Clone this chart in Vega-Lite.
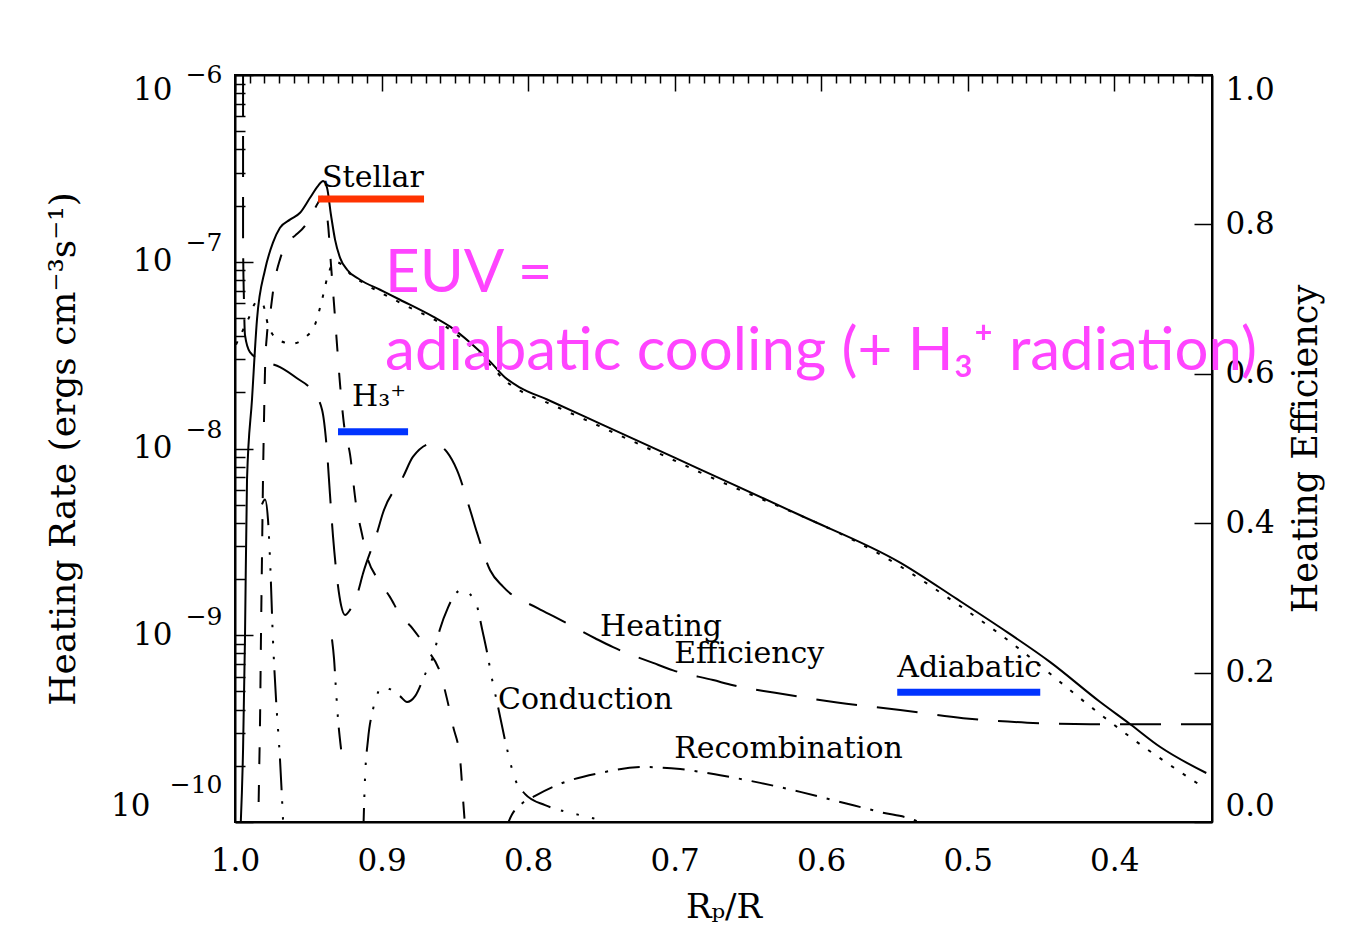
{
  "$schema": "https://vega.github.io/schema/vega-lite/v6.json",
  "width": 977,
  "height": 747,
  "autosize": "none",
  "padding": {"left": 235, "top": 75, "right": 133, "bottom": 128},
  "background": "white",
  "config": {
    "view": {"stroke": "black", "strokeWidth": 2},
    "axis": {"grid": false, "zindex": 1, "domainColor": "black", "domainWidth": 2, "tickColor": "black", "tickWidth": 1.5, "labelColor": "black", "titleColor": "black", "labelFont": "DejaVu Serif", "titleFont": "DejaVu Serif", "titleFontWeight": "normal"}
  },
  "datasets": {
    "curves": [
      {"s": "stellar", "r": 0.9966, "v": 8e-11}, {"s": "stellar", "r": 0.9945, "v": 2.45e-10}, {"s": "stellar", "r": 0.9932, "v": 9.5e-10}, {"s": "stellar", "r": 0.9918, "v": 6.83e-9}, {"s": "stellar", "r": 0.9884, "v": 1.83e-8}, {"s": "stellar", "r": 0.9850, "v": 4.9e-8}, {"s": "stellar", "r": 0.9795, "v": 9.06e-8}, {"s": "stellar", "r": 0.9741, "v": 1.265e-7}, {"s": "stellar", "r": 0.9693, "v": 1.52e-7}, {"s": "stellar", "r": 0.9625, "v": 1.68e-7}, {"s": "stellar", "r": 0.9556, "v": 1.83e-7}, {"s": "stellar", "r": 0.9488, "v": 2.2e-7}, {"s": "stellar", "r": 0.9433, "v": 2.55e-7}, {"s": "stellar", "r": 0.9399, "v": 2.71e-7}, {"s": "stellar", "r": 0.9372, "v": 2.49e-7}, {"s": "stellar", "r": 0.9345, "v": 1.78e-7}, {"s": "stellar", "r": 0.9317, "v": 1.31e-7}, {"s": "stellar", "r": 0.9283, "v": 1.05e-7}, {"s": "stellar", "r": 0.9235, "v": 9.06e-8}, {"s": "stellar", "r": 0.9147, "v": 8.01e-8}, {"s": "stellar", "r": 0.9010, "v": 7.08e-8}, {"s": "stellar", "r": 0.8874, "v": 6.26e-8}, {"s": "stellar", "r": 0.8648, "v": 5.08e-8}, {"s": "stellar", "r": 0.8532, "v": 4.49e-8}, {"s": "stellar", "r": 0.8396, "v": 3.69e-8}, {"s": "stellar", "r": 0.8259, "v": 2.92e-8}, {"s": "stellar", "r": 0.8157, "v": 2.40e-8}, {"s": "stellar", "r": 0.8055, "v": 2.12e-8}, {"s": "stellar", "r": 0.7870, "v": 1.83e-8}, {"s": "stellar", "r": 0.7509, "v": 1.36e-8}, {"s": "stellar", "r": 0.6826, "v": 7.73e-9}, {"s": "stellar", "r": 0.6143, "v": 4.39e-9}, {"s": "stellar", "r": 0.5461, "v": 2.45e-9}, {"s": "stellar", "r": 0.5072, "v": 1.56e-9}, {"s": "stellar", "r": 0.4778, "v": 1.1e-9}, {"s": "stellar", "r": 0.4437, "v": 7.18e-10}, {"s": "stellar", "r": 0.4096, "v": 4.39e-10}, {"s": "stellar", "r": 0.3891, "v": 3.34e-10}, {"s": "stellar", "r": 0.3686, "v": 2.52e-10}, {"s": "stellar", "r": 0.3372, "v": 1.83e-10},

      {"s": "adiabatic", "r": 0.9993, "v": 3.6e-8}, {"s": "adiabatic", "r": 0.9911, "v": 4.9e-8}, {"s": "adiabatic", "r": 0.9850, "v": 6.11e-8}, {"s": "adiabatic", "r": 0.9809, "v": 5.89e-8}, {"s": "adiabatic", "r": 0.9775, "v": 4.61e-8}, {"s": "adiabatic", "r": 0.9706, "v": 3.83e-8}, {"s": "adiabatic", "r": 0.9611, "v": 3.64e-8}, {"s": "adiabatic", "r": 0.9522, "v": 3.93e-8}, {"s": "adiabatic", "r": 0.9454, "v": 4.61e-8}, {"s": "adiabatic", "r": 0.9406, "v": 6.26e-8}, {"s": "adiabatic", "r": 0.9365, "v": 8.51e-8}, {"s": "adiabatic", "r": 0.9317, "v": 1.0e-7}, {"s": "adiabatic", "r": 0.9270, "v": 9.64e-8}, {"s": "adiabatic", "r": 0.9215, "v": 8.63e-8}, {"s": "adiabatic", "r": 0.9113, "v": 7.62e-8}, {"s": "adiabatic", "r": 0.8874, "v": 6.04e-8}, {"s": "adiabatic", "r": 0.8532, "v": 4.33e-8}, {"s": "adiabatic", "r": 0.8396, "v": 3.55e-8}, {"s": "adiabatic", "r": 0.8259, "v": 2.81e-8}, {"s": "adiabatic", "r": 0.8157, "v": 2.31e-8}, {"s": "adiabatic", "r": 0.8055, "v": 2.04e-8}, {"s": "adiabatic", "r": 0.7870, "v": 1.76e-8}, {"s": "adiabatic", "r": 0.6826, "v": 7.45e-9}, {"s": "adiabatic", "r": 0.5461, "v": 2.34e-9}, {"s": "adiabatic", "r": 0.5072, "v": 1.47e-9}, {"s": "adiabatic", "r": 0.4778, "v": 1.01e-9}, {"s": "adiabatic", "r": 0.4096, "v": 3.78e-10}, {"s": "adiabatic", "r": 0.3891, "v": 2.85e-10}, {"s": "adiabatic", "r": 0.3427, "v": 1.6e-10},

      {"s": "h3", "r": 0.9843, "v": 8e-11}, {"s": "h3", "r": 0.9836, "v": 1.7e-10}, {"s": "h3", "r": 0.9829, "v": 3.56e-10}, {"s": "h3", "r": 0.9823, "v": 9.5e-10}, {"s": "h3", "r": 0.9816, "v": 2.55e-9}, {"s": "h3", "r": 0.9809, "v": 6.83e-9}, {"s": "h3", "r": 0.9802, "v": 1.43e-8}, {"s": "h3", "r": 0.9795, "v": 2.64e-8}, {"s": "h3", "r": 0.9782, "v": 4.07e-8}, {"s": "h3", "r": 0.9761, "v": 5.21e-8}, {"s": "h3", "r": 0.9734, "v": 7.53e-8}, {"s": "h3", "r": 0.9693, "v": 1.03e-7}, {"s": "h3", "r": 0.9645, "v": 1.265e-7}, {"s": "h3", "r": 0.9590, "v": 1.38e-7}, {"s": "h3", "r": 0.9522, "v": 1.56e-7}, {"s": "h3", "r": 0.9474, "v": 1.81e-7}, {"s": "h3", "r": 0.9433, "v": 2.07e-7}, {"s": "h3", "r": 0.9406, "v": 2.23e-7}, {"s": "h3", "r": 0.9386, "v": 2.02e-7}, {"s": "h3", "r": 0.9365, "v": 1.58e-7}, {"s": "h3", "r": 0.9345, "v": 9.64e-8}, {"s": "h3", "r": 0.9324, "v": 5.89e-8}, {"s": "h3", "r": 0.9304, "v": 3.6e-8}, {"s": "h3", "r": 0.9283, "v": 2.2e-8}, {"s": "h3", "r": 0.9256, "v": 1.34e-8}, {"s": "h3", "r": 0.9215, "v": 9.29e-9}, {"s": "h3", "r": 0.9174, "v": 5.02e-9}, {"s": "h3", "r": 0.9133, "v": 3.47e-9}, {"s": "h3", "r": 0.9099, "v": 2.64e-9}, {"s": "h3", "r": 0.9024, "v": 1.99e-9}, {"s": "h3", "r": 0.8942, "v": 1.6e-9}, {"s": "h3", "r": 0.8874, "v": 1.29e-9}, {"s": "h3", "r": 0.8785, "v": 1.08e-9}, {"s": "h3", "r": 0.8689, "v": 8.41e-10}, {"s": "h3", "r": 0.8601, "v": 6.34e-10}, {"s": "h3", "r": 0.8553, "v": 4.55e-10}, {"s": "h3", "r": 0.8512, "v": 3.26e-10}, {"s": "h3", "r": 0.8464, "v": 2.17e-10}, {"s": "h3", "r": 0.8444, "v": 1.33e-10}, {"s": "h3", "r": 0.8423, "v": 8e-11},

      {"s": "conduction", "seg": 1, "r": 0.9816, "v": 5.02e-9}, {"s": "conduction", "seg": 1, "r": 0.9795, "v": 5.33e-9}, {"s": "conduction", "seg": 1, "r": 0.9775, "v": 4.17e-9}, {"s": "conduction", "seg": 1, "r": 0.9761, "v": 2.55e-9}, {"s": "conduction", "seg": 1, "r": 0.9741, "v": 9.5e-10}, {"s": "conduction", "seg": 1, "r": 0.9720, "v": 4.55e-10}, {"s": "conduction", "seg": 1, "r": 0.9693, "v": 2.17e-10}, {"s": "conduction", "seg": 1, "r": 0.9666, "v": 8e-11},
      {"s": "conduction", "seg": 2, "r": 0.9338, "v": 9.5e-10}, {"s": "conduction", "seg": 2, "r": 0.9324, "v": 7.45e-10}, {"s": "conduction", "seg": 2, "r": 0.9311, "v": 5.14e-10}, {"s": "conduction", "seg": 2, "r": 0.9297, "v": 3.56e-10}, {"s": "conduction", "seg": 2, "r": 0.9276, "v": 2.45e-10},
      {"s": "conduction", "seg": 3, "r": 0.9126, "v": 8e-11}, {"s": "conduction", "seg": 3, "r": 0.9113, "v": 1.7e-10}, {"s": "conduction", "seg": 3, "r": 0.9092, "v": 2.78e-10}, {"s": "conduction", "seg": 3, "r": 0.9058, "v": 4.02e-10}, {"s": "conduction", "seg": 3, "r": 0.9024, "v": 4.95e-10}, {"s": "conduction", "seg": 3, "r": 0.8990, "v": 5.33e-10}, {"s": "conduction", "seg": 3, "r": 0.8942, "v": 5.14e-10}, {"s": "conduction", "seg": 3, "r": 0.8874, "v": 4.72e-10}, {"s": "conduction", "seg": 3, "r": 0.8826, "v": 4.39e-10}, {"s": "conduction", "seg": 3, "r": 0.8771, "v": 4.72e-10}, {"s": "conduction", "seg": 3, "r": 0.8703, "v": 6.18e-10}, {"s": "conduction", "seg": 3, "r": 0.8648, "v": 7.73e-10}, {"s": "conduction", "seg": 3, "r": 0.8601, "v": 1.08e-9}, {"s": "conduction", "seg": 3, "r": 0.8546, "v": 1.41e-9}, {"s": "conduction", "seg": 3, "r": 0.8498, "v": 1.66e-9}, {"s": "conduction", "seg": 3, "r": 0.8444, "v": 1.76e-9}, {"s": "conduction", "seg": 3, "r": 0.8396, "v": 1.66e-9}, {"s": "conduction", "seg": 3, "r": 0.8348, "v": 1.43e-9}, {"s": "conduction", "seg": 3, "r": 0.8314, "v": 1.08e-9}, {"s": "conduction", "seg": 3, "r": 0.8280, "v": 8.11e-10}, {"s": "conduction", "seg": 3, "r": 0.8246, "v": 5.82e-10}, {"s": "conduction", "seg": 3, "r": 0.8212, "v": 4.39e-10}, {"s": "conduction", "seg": 3, "r": 0.8143, "v": 2.45e-10}, {"s": "conduction", "seg": 3, "r": 0.8089, "v": 1.7e-10}, {"s": "conduction", "seg": 3, "r": 0.8020, "v": 1.41e-10}, {"s": "conduction", "seg": 3, "r": 0.7884, "v": 1.23e-10}, {"s": "conduction", "seg": 3, "r": 0.7713, "v": 1.12e-10}, {"s": "conduction", "seg": 3, "r": 0.7543, "v": 1.04e-10}, {"s": "conduction", "seg": 3, "r": 0.7406, "v": 9.5e-11},

      {"s": "recombination", "r": 0.8157, "v": 9e-11}, {"s": "recombination", "r": 0.8109, "v": 1.1e-10}, {"s": "recombination", "r": 0.8055, "v": 1.23e-10}, {"s": "recombination", "r": 0.7952, "v": 1.38e-10}, {"s": "recombination", "r": 0.7782, "v": 1.6e-10}, {"s": "recombination", "r": 0.7509, "v": 1.83e-10}, {"s": "recombination", "r": 0.7215, "v": 1.97e-10}, {"s": "recombination", "r": 0.6962, "v": 1.92e-10}, {"s": "recombination", "r": 0.6689, "v": 1.78e-10}, {"s": "recombination", "r": 0.6416, "v": 1.62e-10}, {"s": "recombination", "r": 0.6143, "v": 1.45e-10}, {"s": "recombination", "r": 0.5870, "v": 1.28e-10}, {"s": "recombination", "r": 0.5597, "v": 1.13e-10}, {"s": "recombination", "r": 0.5338, "v": 1.0e-10}, {"s": "recombination", "r": 0.5290, "v": 9.5e-11}
    ],
    "eff": [
      {"r": 0.9945, "e": 1.0}, {"r": 0.9945, "e": 0.886}, {"r": 0.9945, "e": 0.779}, {"r": 0.9939, "e": 0.699}, {"r": 0.9932, "e": 0.652}, {"r": 0.9898, "e": 0.629}, {"r": 0.9816, "e": 0.618}, {"r": 0.9693, "e": 0.609}, {"r": 0.9577, "e": 0.594}, {"r": 0.9468, "e": 0.576}, {"r": 0.9406, "e": 0.552}, {"r": 0.9372, "e": 0.496}, {"r": 0.9352, "e": 0.439}, {"r": 0.9331, "e": 0.382}, {"r": 0.9304, "e": 0.327}, {"r": 0.9276, "e": 0.290}, {"r": 0.9249, "e": 0.277}, {"r": 0.9215, "e": 0.284}, {"r": 0.9167, "e": 0.304}, {"r": 0.9126, "e": 0.333}, {"r": 0.9031, "e": 0.387}, {"r": 0.8990, "e": 0.414}, {"r": 0.8853, "e": 0.462}, {"r": 0.8785, "e": 0.489}, {"r": 0.8648, "e": 0.507}, {"r": 0.8553, "e": 0.495}, {"r": 0.8485, "e": 0.471}, {"r": 0.8396, "e": 0.418}, {"r": 0.8348, "e": 0.387}, {"r": 0.8259, "e": 0.337}, {"r": 0.8171, "e": 0.315}, {"r": 0.7932, "e": 0.286}, {"r": 0.7802, "e": 0.273}, {"r": 0.7543, "e": 0.246}, {"r": 0.7420, "e": 0.234}, {"r": 0.7147, "e": 0.213}, {"r": 0.7010, "e": 0.203}, {"r": 0.6737, "e": 0.190}, {"r": 0.6601, "e": 0.183}, {"r": 0.6314, "e": 0.173}, {"r": 0.5891, "e": 0.160}, {"r": 0.5461, "e": 0.150}, {"r": 0.5031, "e": 0.139}, {"r": 0.4594, "e": 0.133}, {"r": 0.4164, "e": 0.131}, {"r": 0.3331, "e": 0.131}
    ],
    "labels": [
      {"t": "Stellar", "r": 0.9406, "v": 2.52e-7},
      {"t": "H₃⁺", "r": 0.9201, "v": 1.68e-8},
      {"t": "Heating", "r": 0.7509, "v": 9.89e-10},
      {"t": "Efficiency", "r": 0.7003, "v": 7.08e-10},
      {"t": "Conduction", "r": 0.8205, "v": 4.02e-10},
      {"t": "Recombination", "r": 0.7003, "v": 2.2e-10},
      {"t": "Adiabatic", "r": 0.5481, "v": 5.96e-10}
    ],
    "note": [
      {"t": "EUV =", "r": 0.8976, "v": 6.92e-8},
      {"t": "adiabatic cooling (+ H₃⁺ radiation)", "r": 0.8976, "v": 2.64e-8}
    ],
    "bars": [
      {"name": "Stellar", "r": 0.9433, "r2": 0.8710, "v": 2.17e-7},
      {"name": "H3+", "r": 0.9297, "r2": 0.8819, "v": 1.23e-8},
      {"name": "Adiabatic", "r": 0.5481, "r2": 0.4505, "v": 4.95e-10}
    ],
    "xticks": [
      {"r": 0.34}, {"r": 0.35}, {"r": 0.36}, {"r": 0.37}, {"r": 0.38}, {"r": 0.39}, {"r": 0.4}, {"r": 0.41}, {"r": 0.42}, {"r": 0.43}, {"r": 0.44}, {"r": 0.45}, {"r": 0.46}, {"r": 0.47}, {"r": 0.48}, {"r": 0.49}, {"r": 0.5}, {"r": 0.51}, {"r": 0.52}, {"r": 0.53}, {"r": 0.54}, {"r": 0.55}, {"r": 0.56}, {"r": 0.57}, {"r": 0.58}, {"r": 0.59}, {"r": 0.6}, {"r": 0.61}, {"r": 0.62}, {"r": 0.63}, {"r": 0.64}, {"r": 0.65}, {"r": 0.66}, {"r": 0.67}, {"r": 0.68}, {"r": 0.69}, {"r": 0.7}, {"r": 0.71}, {"r": 0.72}, {"r": 0.73}, {"r": 0.74}, {"r": 0.75}, {"r": 0.76}, {"r": 0.77}, {"r": 0.78}, {"r": 0.79}, {"r": 0.8}, {"r": 0.81}, {"r": 0.82}, {"r": 0.83}, {"r": 0.84}, {"r": 0.85}, {"r": 0.86}, {"r": 0.87}, {"r": 0.88}, {"r": 0.89}, {"r": 0.9}, {"r": 0.91}, {"r": 0.92}, {"r": 0.93}, {"r": 0.94}, {"r": 0.95}, {"r": 0.96}, {"r": 0.97}, {"r": 0.98}, {"r": 0.99}, {"r": 1.0}
    ]
  },
  "resolve": {"scale": {"y": "independent"}, "axis": {"x": "independent"}},
  "layer": [
    {
      "encoding": {
        "x": {
          "field": "r", "type": "quantitative",
          "scale": {"domain": [0.3333, 1.0], "reverse": true, "nice": false, "zero": false},
          "axis": {
            "orient": "bottom",
            "values": [0.4, 0.5, 0.6, 0.7, 0.8, 0.9, 1.0],
            "format": ".1f",
            "ticks": false,
            "labelFontSize": 31, "labelPadding": 24, "labelOverlap": false, "labelFlush": false,
            "title": "Rₚ/R", "titleFontSize": 34, "titlePadding": 14
          }
        },
        "y": {
          "field": "v", "type": "quantitative",
          "scale": {"type": "log", "domain": [1e-10, 1e-6], "nice": false},
          "axis": {
            "orient": "left",
            "values": [1e-10,2e-10,3e-10,4e-10,5e-10,6e-10,7e-10,8e-10,9e-10,1e-9,2e-9,3e-9,4e-9,5e-9,6e-9,7e-9,8e-9,9e-9,1e-8,2e-8,3e-8,4e-8,5e-8,6e-8,7e-8,8e-8,9e-8,1e-7,2e-7,3e-7,4e-7,5e-7,6e-7,7e-7,8e-7,9e-7,1e-6],
            "labelExpr": "abs(log(datum.value)/LN10 - round(log(datum.value)/LN10)) > 0.001 ? '' : '10'",
            "tickSize": {"condition": {"test": "abs(log(datum.value)/LN10 - round(log(datum.value)/LN10)) < 0.001", "value": -18}, "value": -10},
            "labelFontSize": 31,
            "labelPadding": {"condition": {"test": "datum.value < 2e-10", "value": 103}, "value": 81},
            "labelOverlap": false, "labelFlush": true,
            "title": "Heating Rate (ergs cm⁻³s⁻¹)", "titleFontSize": 36, "titlePadding": 28
          }
        }
      },
      "layer": [
        {"data": {"name": "curves"}, "transform": [{"filter": "datum.s == 'stellar'"}], "mark": {"type": "line", "color": "black", "strokeWidth": 2, "interpolate": "monotone", "clip": true}},
        {"data": {"name": "curves"}, "transform": [{"filter": "datum.s == 'adiabatic'"}], "mark": {"type": "line", "color": "black", "strokeWidth": 2, "strokeDash": [3.5, 10.5], "interpolate": "monotone", "clip": true}},
        {"data": {"name": "curves"}, "transform": [{"filter": "datum.s == 'h3'"}], "mark": {"type": "line", "color": "black", "strokeWidth": 2, "strokeDash": [17, 21], "interpolate": "monotone", "clip": true}},
        {"data": {"name": "curves"}, "transform": [{"filter": "datum.s == 'conduction'"}], "mark": {"type": "line", "color": "black", "strokeWidth": 2, "strokeDash": [32, 11, 2.5, 13.5, 2.5, 13.5, 2.5, 11], "interpolate": "monotone", "clip": true}, "encoding": {"detail": {"field": "seg", "type": "nominal"}}},
        {"data": {"name": "curves"}, "transform": [{"filter": "datum.s == 'recombination'"}], "mark": {"type": "line", "color": "black", "strokeWidth": 2, "strokeDash": [22, 10, 3, 10], "interpolate": "monotone", "clip": true}},
        {"data": {"name": "xticks"}, "transform": [{"filter": "abs(datum.r*10 - round(datum.r*10)) < 0.001"}], "mark": {"type": "rule", "color": "black", "strokeWidth": 1.5}, "encoding": {"y": {"datum": 1e-10}, "y2": {"datum": 1.218e-10}}},
        {"data": {"name": "xticks"}, "transform": [{"filter": "abs(datum.r*10 - round(datum.r*10)) >= 0.001"}], "mark": {"type": "rule", "color": "black", "strokeWidth": 1.5}, "encoding": {"y": {"datum": 1e-10}, "y2": {"datum": 1.09e-10}}},
        {"data": {"name": "bars"}, "mark": {"type": "rule", "strokeWidth": 7}, "encoding": {"x2": {"field": "r2"}, "color": {"field": "name", "type": "nominal", "scale": {"domain": ["Stellar", "H3+", "Adiabatic"], "range": ["#ff3300", "#0033ff", "#0033ff"]}, "legend": null}}},
        {"data": {"name": "note"}, "mark": {"type": "text", "align": "left", "baseline": "alphabetic", "font": "Lato", "fontSize": 60, "color": "#ff44ff"}, "encoding": {"text": {"field": "t"}}}
      ]
    },
    {
      "data": {"name": "eff"},
      "mark": {"type": "line", "color": "black", "strokeWidth": 2, "strokeDash": [41, 20], "interpolate": "monotone", "clip": true},
      "encoding": {
        "x": {
          "field": "r", "type": "quantitative",
          "scale": {"domain": [0.3333, 1.0], "reverse": true, "nice": false, "zero": false},
          "axis": {
            "orient": "top",
            "values": [0.34,0.35,0.36,0.37,0.38,0.39,0.4,0.41,0.42,0.43,0.44,0.45,0.46,0.47,0.48,0.49,0.5,0.51,0.52,0.53,0.54,0.55,0.56,0.57,0.58,0.59,0.6,0.61,0.62,0.63,0.64,0.65,0.66,0.67,0.68,0.69,0.7,0.71,0.72,0.73,0.74,0.75,0.76,0.77,0.78,0.79,0.8,0.81,0.82,0.83,0.84,0.85,0.86,0.87,0.88,0.89,0.9,0.91,0.92,0.93,0.94,0.95,0.96,0.97,0.98,0.99,1.0],
            "labels": false,
            "tickSize": {"condition": {"test": "abs(datum.value*10 - round(datum.value*10)) < 0.001", "value": -16}, "value": -8},
            "title": null
          }
        },
        "y": {
          "field": "e", "type": "quantitative",
          "scale": {"domain": [0, 1], "nice": false, "zero": true},
          "axis": {
            "orient": "right",
            "values": [0, 0.2, 0.4, 0.6, 0.8, 1.0],
            "format": ".1f",
            "tickSize": {"condition": {"test": "datum.value >= 0", "value": -18}, "value": -18},
            "labelFontSize": 31, "labelPadding": 31, "labelFlush": true,
            "title": "Heating Efficiency", "titleFontSize": 35, "titleAngle": -90, "titleBaseline": "top", "titlePadding": 14
          }
        }
      }
    },
    {
      "data": {"name": "labels"},
      "mark": {"type": "text", "align": "left", "baseline": "alphabetic", "font": "DejaVu Serif", "fontSize": 30, "color": "black"},
      "encoding": {
        "x": {"field": "r", "type": "quantitative", "scale": {"domain": [0.3333, 1.0], "reverse": true, "nice": false, "zero": false}, "axis": null},
        "y": {
          "field": "v", "type": "quantitative",
          "scale": {"type": "log", "domain": [1e-10, 1e-6], "nice": false},
          "axis": {
            "orient": "left",
            "values": [1e-10, 1e-9, 1e-8, 1e-7, 1e-6],
            "labelExpr": "round(log(datum.value)/LN10) == -6 ? '−6' : round(log(datum.value)/LN10) == -7 ? '−7' : round(log(datum.value)/LN10) == -8 ? '−8' : round(log(datum.value)/LN10) == -9 ? '−9' : '−10'",
            "ticks": false, "domain": false,
            "labelFontSize": 25, "labelPadding": 13, "labelFlush": true, "labelOverlap": false,
            "labelOffset": {"condition": [{"test": "datum.value > 5e-7", "value": -13}, {"test": "datum.value < 2e-10", "value": -25}], "value": -19},
            "title": null
          }
        },
        "text": {"field": "t"}
      }
    }
  ]
}
